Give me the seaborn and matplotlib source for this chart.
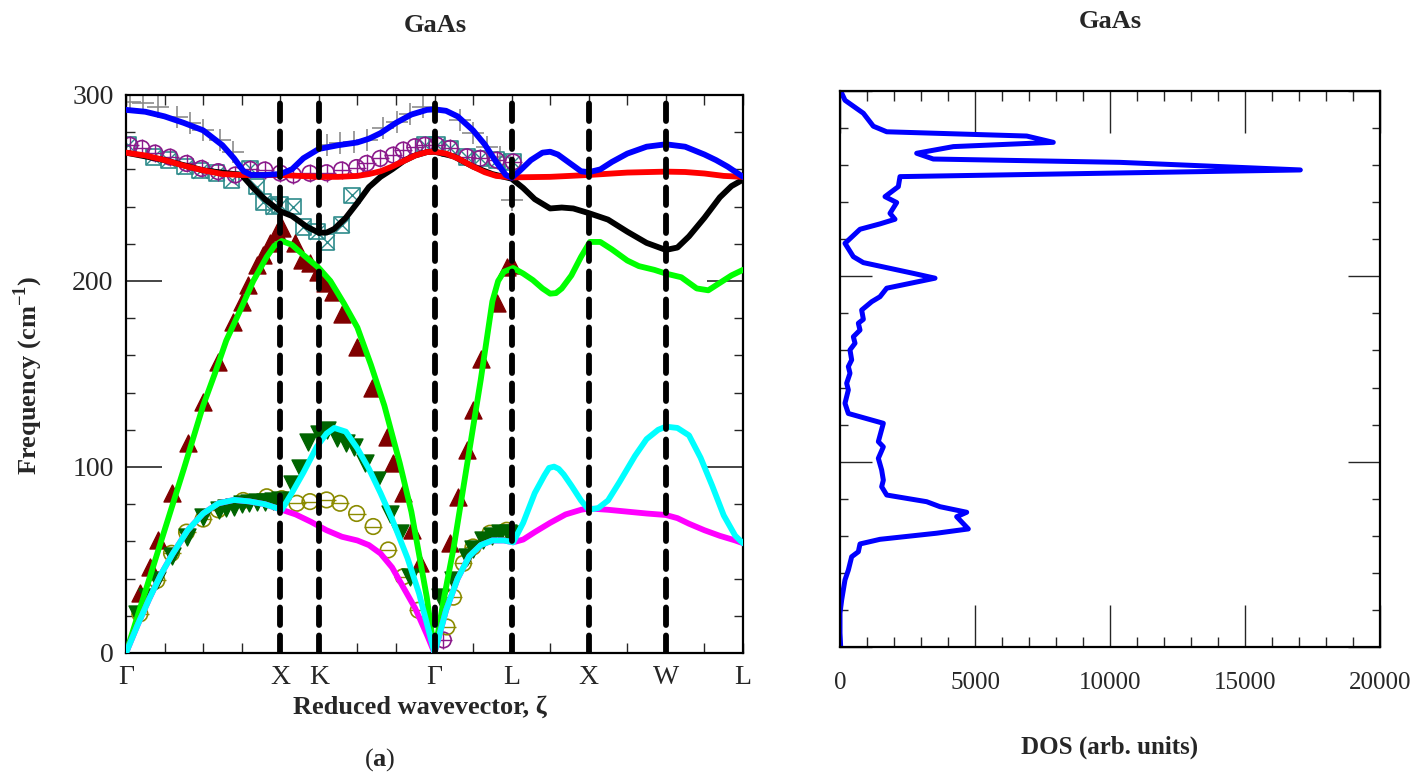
import matplotlib
import matplotlib.pyplot as plt
import numpy as np
import pandas as pd
import seaborn as sns
from matplotlib.ticker import MultipleLocator

matplotlib.use("Agg")
sns.set_theme(style="ticks")
plt.rcParams["font.family"] = ["Liberation Serif", "DejaVu Serif"]
plt.rcParams["mathtext.fontset"] = "custom"
plt.rcParams["mathtext.rm"] = "Liberation Serif"
plt.rcParams["mathtext.bf"] = "Liberation Serif:bold"

# high-symmetry path (position along path, label)
sym_pos = [0, 4, 5, 8, 10, 12, 14, 16]
sym_lab = ["Γ", "X", "K", "Γ", "L", "X", "W", "L"]

# calculated branches (frequency in cm^-1)
blue_x = [0, 0.5, 1.0, 1.5, 2.0, 2.5, 2.8, 3.05, 3.25, 3.6, 4.0, 4.3, 4.6, 5.0, 5.5, 6.0, 6.3, 6.6, 7.0,
          7.4, 7.8, 8.0, 8.3, 8.6, 9.0, 9.3, 9.6, 9.85, 10.0, 10.2, 10.5, 10.8, 11.0, 11.2, 11.5, 11.8,
          12.0, 12.3, 12.6, 13.0, 13.5, 14.0, 14.5, 15.0, 15.3, 15.6, 16.0]
blue_y = [292, 291, 288.5, 285, 281, 273, 266, 259, 257, 257, 257.5, 260, 266, 271, 273, 274.5, 276.5,
          279.5, 285, 289.5, 292, 292.3, 291.5, 288.5, 281, 273.5, 264, 257, 255.5, 259, 265, 269, 269.5,
          268, 263.5, 259, 258.5, 260, 264, 268.5, 272.2, 273.5, 272.2, 268, 265, 261.5, 256]

red_x = [0, 0.5, 1.0, 1.5, 2.0, 2.5, 3.0, 3.5, 4.0, 4.5, 5.0, 5.5, 6.0, 6.3, 6.6, 6.9, 7.2, 7.5, 7.8,
         8.0, 8.3, 8.6, 9.0, 9.3, 9.6, 10.0, 11.0, 12.0, 13.0, 14.0, 14.5, 15.0, 15.5, 16.0]
red_y = [269, 267.5, 265, 262, 259.5, 257.5, 257, 257, 257, 256.5, 256, 256, 256.5, 257.5, 259, 261.5,
         264.5, 267.5, 269.3, 269.5, 268.5, 266, 261.5, 258.5, 256.5, 255.7, 256, 257, 258.3, 258.8,
         258.6, 257.8, 256.5, 256]

black_x = [0, 1, 2, 3.0, 3.3, 3.6, 4.0, 4.3, 4.7, 5.0, 5.2, 5.4, 5.7, 6.0, 6.3, 6.6, 6.9, 7.2, 7.5, 7.8,
           8.0, 8.5, 9.0, 9.5, 10.0, 10.3, 10.6, 11.0, 11.3, 11.6, 12.0, 12.5, 13.0, 13.5, 14.0, 14.3,
           14.6, 15.0, 15.4, 15.7, 16.0]
black_y = [269, 265, 259.5, 257, 250, 244, 237.5, 235, 229, 226, 226, 228, 234, 242, 250.5, 256, 260,
           264.5, 267.5, 269.3, 269.5, 267, 261.5, 257.5, 255, 250, 244, 239, 239.5, 239, 236.5, 233,
           226.5, 220.5, 216.7, 218, 224, 234, 245, 251, 254.5]

green_x = [0, 0.5, 1.0, 1.5, 2.0, 2.3, 2.6, 3.0, 3.3, 3.65, 3.85, 4.04, 4.3, 4.6, 5.0, 5.3, 5.65, 6.0,
           6.35, 6.7, 7.1, 7.4, 7.8, 8.0, 8.25, 8.5, 8.85, 9.2, 9.5, 9.65, 9.8, 10.04, 10.3, 10.55, 10.8,
           11.0, 11.15, 11.3, 11.55, 11.8, 12.03, 12.3, 12.6, 13.0, 13.3, 13.7, 14.0, 14.4, 14.8, 15.1,
           15.4, 15.7, 16.0]
green_y = [0, 33, 66, 99, 133, 150, 168, 186, 200, 213, 219, 221.5, 219.5, 214, 207, 200, 188, 175,
           155, 133, 102, 76, 30, 0, 30, 57, 102, 147, 189, 200, 205, 207, 204, 200.5, 196, 193.2,
           193.5, 196, 203, 213, 221, 221, 217, 211, 208, 206, 204, 202, 196, 195, 199, 203, 206]

cyan_x = [0, 0.3, 0.6, 0.9, 1.2, 1.6, 2.0, 2.4, 2.8, 3.2, 3.6, 4.04, 4.3, 4.6, 4.95, 5.2, 5.4, 5.7, 6.0,
          6.3, 6.6, 6.9, 7.3, 7.6, 8.0, 8.3, 8.6, 8.9, 9.2, 9.5, 9.8, 10.04, 10.3, 10.6, 10.85, 10.97,
          11.1, 11.22, 11.35, 11.55, 11.8, 12.0, 12.25, 12.5, 12.8, 13.2, 13.5, 13.8, 14.0, 14.3, 14.6,
          14.9, 15.2, 15.5, 15.8, 16.0]
cyan_y = [0, 15, 29, 42, 53, 66, 75, 80.5, 82.3, 81.5, 80, 77, 86, 97, 111, 118, 121, 119, 110, 99, 86,
          72, 51, 32, 0, 23, 40, 52, 58, 60.5, 60.5, 59.5, 70, 86, 95.5, 99.5, 100.2, 99, 96, 90, 82, 77,
          78, 82, 92, 106, 115, 120, 121.7, 121, 117, 105, 90, 74, 63, 59]

magenta_x = [0, 0.3, 0.6, 0.9, 1.2, 1.6, 2.0, 2.4, 2.8, 3.2, 3.6, 4.04, 4.4, 4.8, 5.2, 5.6, 6.0, 6.3,
             6.6, 6.9, 7.2, 7.5, 7.8, 8.0, 8.3, 8.6, 8.9, 9.2, 9.5, 9.8, 10.04, 10.3, 10.6, 11.0, 11.4,
             11.8, 12.0, 12.5, 13.0, 13.5, 14.0, 14.3, 14.6, 15.0, 15.4, 15.8, 16.0]
magenta_y = [0, 15, 29, 42, 53, 66, 75, 80.5, 82.3, 81.5, 80, 77, 74.5, 70.5, 66, 62.5, 60.5, 58,
             53.5, 46, 35, 24, 10, 0, 23, 40, 52, 58, 60.5, 60.5, 59.5, 61, 65, 70, 74.5, 77, 77.7, 77,
             76, 75, 74.2, 72.5, 69.5, 66, 63, 60.5, 59]

# experimental points
plus_x = [0.1, 0.45, 0.84, 1.31, 1.66, 2.0, 2.44, 2.78, 5.2, 5.55, 5.9, 6.24, 6.67, 7.02, 7.37, 7.71,
          8.66, 9.0, 9.35, 9.7, 10.0]
plus_y = [296, 295.5, 293.7, 288.3, 284.8, 281.2, 275.8, 269.5, 273, 274, 275, 276, 282, 285.6, 290,
          293.7, 286.6, 279.4, 272.2, 266.8, 243.5]

oplus_x = [0.1, 0.41, 0.75, 1.14, 1.57, 1.96, 2.39, 2.83, 3.22, 3.6, 4.0, 4.34, 4.77, 5.2, 5.59, 5.98,
           6.24, 6.59, 6.93, 7.19, 7.49, 7.75, 8.06, 8.4, 8.84, 9.18, 9.61, 10.04, 8.23]
oplus_y = [273, 271.3, 268.8, 266.6, 263.2, 260.5, 258.8, 257, 260, 259.7, 258, 257, 257.9, 258.2,
           259.7, 261, 263.2, 265.9, 267.7, 270.4, 272.2, 273, 273, 271.3, 266.8, 265.9, 265, 264, 7]

sqx_x = [0.06, 0.71, 1.1, 1.53, 1.92, 2.35, 2.74, 3.22, 3.39, 3.56, 3.82, 4.0, 4.34, 4.6, 4.95, 5.2,
         5.59, 5.86, 7.75, 8.06, 8.4, 8.84, 9.18, 9.61, 10.04]
sqx_y = [273, 266.8, 265, 261.5, 259.4, 258, 254.3, 260.5, 250.7, 242.6, 240, 240.9, 240, 229, 226.5,
         221, 230, 246, 273, 273, 271.3, 266.8, 265.9, 265, 264]

tri_up_x = [0.36, 0.62, 0.84, 1.18, 1.62, 2.0, 2.39, 2.78, 3.0, 3.17, 3.39, 3.56, 3.73, 3.91, 4.04,
            4.38, 4.56, 4.77, 4.99, 5.16, 5.38, 5.59, 5.98, 6.37, 6.76, 6.93, 7.19, 7.41, 7.62, 8.4,
            8.62, 8.84, 9.0, 9.2, 9.61, 9.87, 10.0]
tri_up_y = [32, 46.4, 60.8, 85.8, 112.7, 135.1, 156.6, 178, 188.9, 197.8, 208.6, 214, 220.3, 226.5,
            228.3, 220.3, 211.3, 209.5, 205, 198.8, 194.2, 182.5, 164.7, 142.3, 116.3, 102, 85.8, 66,
            48.2, 59, 84, 109, 130.6, 158, 188, 207.7, 208.6]

tri_dn_x = [0.28, 0.55, 0.8, 1.2, 1.57, 2.0, 2.4, 2.6, 2.8, 3.0, 3.2, 3.4, 3.6, 3.8, 4.0, 4.3, 4.51,
            4.73, 5.0, 5.2, 5.46, 5.7, 5.9, 6.2, 6.5, 6.85, 7.1, 7.36, 8.14, 8.49, 8.84, 9.0, 9.27, 9.5,
            9.7, 9.9, 10.04]
tri_dn_y = [21, 30, 39, 52, 62.5, 73.3, 77, 78, 78.6, 80, 80.5, 81, 81, 81.5, 82, 91, 99.3, 113.6,
            118, 120, 115.4, 113, 111, 102, 93, 75, 64.4, 41, 30.3, 39, 51.8, 56, 60.8, 63, 64.4,
            64.5, 64]

ominus_x = [0.36, 0.8, 1.18, 1.57, 2.0, 2.39, 3.04, 3.65, 4.04, 4.43, 4.77, 5.2, 5.55, 5.98, 6.41,
            6.8, 7.19, 7.58, 8.32, 8.49, 8.75, 9.0, 9.44, 9.87]
ominus_y = [21, 39, 53.6, 65, 72, 77, 82, 84, 83, 80.5, 81.4, 82.3, 80.5, 75, 68, 55.4, 41, 23, 14,
            30, 48.2, 57, 64.4, 66]

# phonon density of states
dos_freq = [300, 295, 288, 281, 278, 275.7, 272.3, 270, 266.4, 263.3, 261.5, 257.4, 253.8, 248.4, 243,
            239.8, 234, 230.8, 228.3, 225.4, 217.8, 210.6, 207.4, 201.6, 199, 193.6, 189, 186.3,
            181.8, 176.8, 174.7, 171, 167.4, 163.9, 160.3, 154.9, 151.3, 147.7, 142.3, 138.7, 131.5,
            126, 120.7, 110.8, 108, 101.8, 95.5, 90, 86.5, 82, 78.4, 75.7, 72.7, 70.3, 63.7, 61.4,
            58.1, 55.6, 51.4, 48.7, 41.5, 36.2, 30.8, 25.4, 18.3, 7.5, 0]
dos_val = [25, 185, 865, 1235, 1730, 6915, 7900, 4200, 2840, 3456, 10370, 17050, 2222, 2160, 1667,
           2100, 1852, 2037, 1481, 741, 185, 494, 865, 2716, 3519, 1730, 1481, 1173, 802, 865, 679,
           741, 494, 556, 370, 432, 309, 370, 247, 309, 185, 309, 1605, 1420, 1605, 1420, 1543, 1605,
           1543, 1730, 3210, 3704, 4692, 4321, 4753, 3580, 1481, 741, 679, 432, 309, 185, 123, 62, 0,
           0, 25]

W, H = 1415, 783
fig = plt.figure(figsize=(W / 100, H / 100), dpi=100)
ax1 = fig.add_axes([126 / W, 1 - 653 / H, 617 / W, 558 / H])
ax2 = fig.add_axes([840 / W, 1 - 647 / H, 540 / W, 556 / H])

# --- dispersion panel ---
ms = 125
sns.scatterplot(x=plus_x, y=plus_y, marker="+", color="#8c8c8c", s=240, linewidth=1.2, ax=ax1, zorder=2)
sns.scatterplot(x=sqx_x, y=sqx_y, marker="s", facecolor="none", edgecolor="#2e8b8b", s=ms, linewidth=1.2, ax=ax1, zorder=2)
sns.scatterplot(x=sqx_x, y=sqx_y, marker="x", color="#2e8b8b", s=ms * 0.9, linewidth=1.0, ax=ax1, zorder=2)
sns.scatterplot(x=oplus_x, y=oplus_y, marker="o", facecolor="none", edgecolor="#8b1a8b", s=ms, linewidth=1.2, ax=ax1, zorder=2)
sns.scatterplot(x=oplus_x, y=oplus_y, marker="+", color="#8b1a8b", s=ms * 1.2, linewidth=1.0, ax=ax1, zorder=2)
sns.scatterplot(x=ominus_x, y=ominus_y, marker="o", facecolor="none", edgecolor="#8b8b00", s=ms, linewidth=1.2, ax=ax1, zorder=2)
sns.scatterplot(x=ominus_x, y=ominus_y, marker="_", color="#8b8b00", s=ms * 1.2, linewidth=1.0, ax=ax1, zorder=2)
sns.scatterplot(x=tri_up_x, y=tri_up_y, marker="^", color="#800000", edgecolor="#800000", s=150, ax=ax1, zorder=2)
sns.scatterplot(x=tri_dn_x, y=tri_dn_y, marker="v", color="#006400", edgecolor="#006400", s=150, ax=ax1, zorder=2)

bands = [
    (black_x, black_y, "black"),
    (red_x, red_y, "#ff0000"),
    (blue_x, blue_y, "#0000ff"),
    (green_x, green_y, "#00ff00"),
    (magenta_x, magenta_y, "#ff00ff"),
    (cyan_x, cyan_y, "#00ffff"),
]
for bx, by, col in bands:
    sns.lineplot(x=bx, y=by, color=col, linewidth=4.2, sort=False, estimator=None, ax=ax1, zorder=3,
                 solid_joinstyle="round", solid_capstyle="round")

for xp in sym_pos[1:-1]:
    ax1.axvline(xp, color="black", linewidth=4.2, linestyle=(0, (3.0, 1.8)), zorder=4,
                dash_capstyle="round")

ax1.set_xlim(0, 16)
ax1.set_ylim(0, 300)
ax1.set_xticks(sym_pos)
ax1.set_xticklabels(sym_lab, fontsize=20)
ax1.xaxis.set_minor_locator(MultipleLocator(1))
ax1.set_yticks([0, 100, 200, 300])
ax1.yaxis.set_minor_locator(MultipleLocator(20))
ax1.tick_params(axis="x", which="both", direction="in", top=True, length=7, width=1.0, pad=9)
ax1.tick_params(axis="y", which="major", direction="in", right=True, length=26, width=1.2, pad=9, labelsize=20)
ax1.tick_params(axis="y", which="minor", direction="in", right=True, length=6.5, width=1.0)
ax1.set_xlabel("")
ax1.set_ylabel("")

# --- DOS panel ---
sns.lineplot(x=dos_val, y=dos_freq, color="#0000ff", linewidth=3.6, sort=False, estimator=None,
             orient="y", ax=ax2, solid_joinstyle="round")
ax2.set_xlim(0, 20000)
ax2.set_ylim(0, 300)
ax2.xaxis.set_major_locator(MultipleLocator(5000))
ax2.xaxis.set_minor_locator(MultipleLocator(1000))
ax2.set_yticks([0, 100, 200, 300])
ax2.yaxis.set_minor_locator(MultipleLocator(20))
ax2.set_yticklabels([])
ax2.tick_params(axis="x", which="major", direction="in", top=True, length=30, width=1.0, pad=18, labelsize=18)
ax2.tick_params(axis="x", which="minor", direction="in", top=True, length=7, width=1.0)
ax2.tick_params(axis="y", which="major", direction="in", right=True, length=23, width=1.0)
ax2.tick_params(axis="y", which="minor", direction="in", right=True, length=6, width=1.0)
ax2.set_xlabel("")
ax2.set_ylabel("")

for ax in (ax1, ax2):
    for sp in ax.spines.values():
        sp.set_visible(True)
        sp.set_color("black")
        sp.set_linewidth(1.6)

# --- text ---
fig.text(435 / W, 1 - 25 / H, "GaAs", ha="center", va="center", fontsize=19, fontweight="bold")
fig.text(1110 / W, 1 - 22 / H, "GaAs", ha="center", va="center", fontsize=19, fontweight="bold")
fig.text(28 / W, 1 - 375 / H, r"Frequency (cm$^{\mathbf{-1}}$)", rotation=90, ha="center", va="center",
         fontsize=19, fontweight="bold")
fig.text(420 / W, 1 - 707 / H, "Reduced wavevector, ζ", ha="center", va="center", fontsize=19,
         fontweight="bold")
fig.text(380 / W, 1 - 760 / H, r"($\mathbf{a}$)", ha="center", va="center", fontsize=19)
fig.text(1110 / W, 1 - 747 / H, "DOS (arb. units)", ha="center", va="center", fontsize=18,
         fontweight="bold")

fig.savefig("out.png", dpi=100)
plt.close(fig)
